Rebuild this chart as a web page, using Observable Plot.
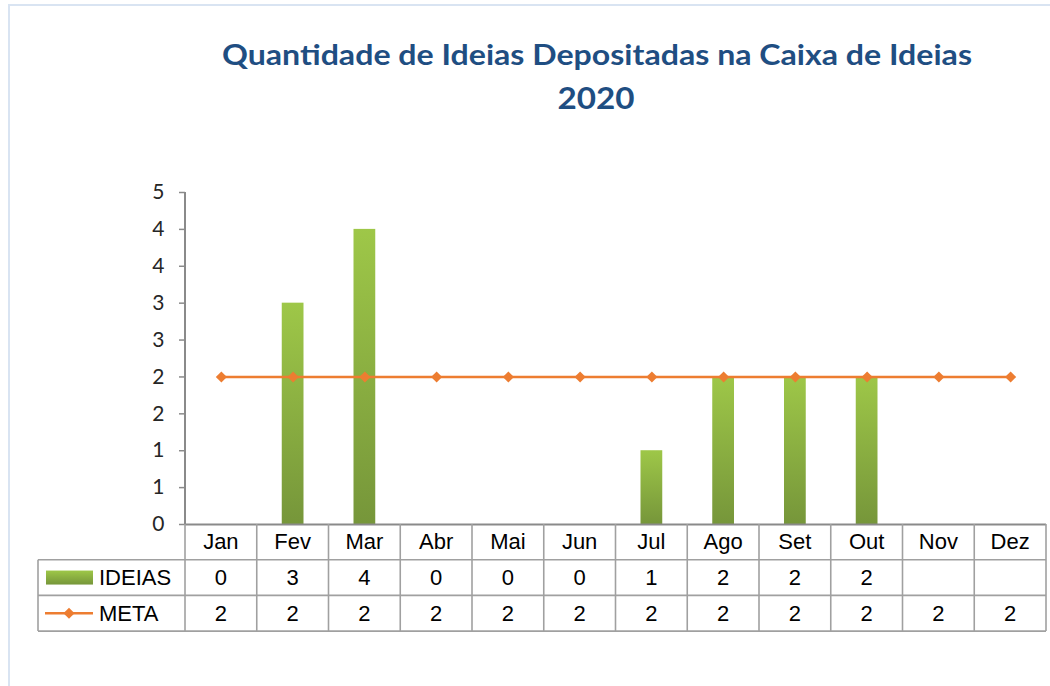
<!DOCTYPE html>
<html>
<head>
<meta charset="utf-8">
<script src="https://cdn.jsdelivr.net/npm/d3@7"></script>
<script src="https://cdn.jsdelivr.net/npm/@observablehq/plot@0.6"></script>
<style>
  html, body { margin: 0; padding: 0; background: #fff; }
  #wrap { position: relative; width: 1050px; height: 686px; overflow: hidden; background: #fff; }
  #border { position: absolute; left: 8px; top: 4px; width: 1200px; height: 900px; border: 2.5px solid #d9e4f2; box-sizing: border-box; }
  #chart { position: absolute; left: 0; top: 0; }
  #titleSvg { position: absolute; left: 0; top: 0; }
</style>
</head>
<body>
<div id="wrap">
  <div id="border"></div>
  <div id="chart"></div>
  <svg id="titleSvg" width="1050" height="130">
    <text x="597" y="65" text-anchor="middle" textLength="750" lengthAdjust="spacingAndGlyphs"
      font-family="Lato, 'Open Sans', sans-serif" font-weight="bold" font-size="29" fill="#1f4e82">Quantidade de Ideias Depositadas na Caixa de Ideias</text>
    <text x="596" y="109" text-anchor="middle" textLength="77" lengthAdjust="spacingAndGlyphs"
      font-family="Lato, 'Open Sans', sans-serif" font-weight="bold" font-size="30" fill="#1f4e82">2020</text>
  </svg>
</div>
<script>
const months = ["Jan", "Fev", "Mar", "Abr", "Mai", "Jun", "Jul", "Ago", "Set", "Out", "Nov", "Dez"];
const ideias = [0, 3, 4, 0, 0, 0, 1, 2, 2, 2, null, null];
const meta = [2, 2, 2, 2, 2, 2, 2, 2, 2, 2, 2, 2];
const yTicks = [0, 0.5, 1, 1.5, 2, 2.5, 3, 3.5, 4, 4.5];
const seriesNames = ["IDEIAS", "META"];

const data = months.map((m, i) => ({ month: m, ideias: ideias[i], meta: meta[i] }));

const plot = Plot.plot({
  width: 1050,
  height: 686,
  marginLeft: 185,
  marginRight: 4,
  marginTop: 192,
  marginBottom: 162,
  x: { type: "band", domain: months, padding: 0, round: false, axis: null },
  y: { domain: [0, 4.5], axis: null },
  style: { background: "transparent", overflow: "visible", color: "#262626" },
  marks: [
    Plot.barY(data.filter(d => d.ideias != null), {
      x: "month", y: "ideias", fill: "url(#barGrad)", insetLeft: 25, insetRight: 25
    }),
    Plot.ruleY([0], { stroke: "#8a8a8a", strokeWidth: 2 }),
    Plot.axisY({
      ticks: yTicks,
      tickFormat: d => String(Math.round(d)),
      tickSize: 6,
      tickPadding: 15,
      fontSize: 21,
      fontFamily: "Lato, 'Open Sans', sans-serif",
      stroke: "#8a8a8a",
      strokeWidth: 1.5,
      fill: "#262626",
      label: null
    }),
    Plot.lineY(data, { x: "month", y: "meta", stroke: "#ed7d31", strokeWidth: 2.5 }),
    Plot.dot(data, { x: "month", y: "meta", symbol: "diamond2", r: 5, fill: "#ed7d31", stroke: "none" })
  ]
});

document.getElementById("chart").appendChild(plot);

const svg = d3.select(plot);

const defs = svg.insert("defs", ":first-child");
const g1 = defs.append("linearGradient").attr("id", "barGrad")
  .attr("x1", 0).attr("y1", 0).attr("x2", 0).attr("y2", 1);
g1.append("stop").attr("offset", "0%").attr("stop-color", "#9ec748");
g1.append("stop").attr("offset", "100%").attr("stop-color", "#76963a");

const xs = plot.scale("x");
const ys = plot.scale("y");
const bw = xs.bandwidth;
const xLeft = xs.range[0];
const xRight = xs.range[1];
const yBase = ys.apply(0);
const yTop = ys.apply(4.5);
const rowH = 35.7;
const tableLeft = 38;
const lineColor = "#a0a0a0";
const tableFont = "'Liberation Sans', Arial, sans-serif";

const tbl = svg.append("g");

// y axis line
tbl.append("line").attr("x1", xLeft).attr("x2", xLeft).attr("y1", yTop).attr("y2", yBase)
  .attr("stroke", "#8a8a8a").attr("stroke-width", 2);

// data table grid
months.forEach(m => {
  const x0 = xs.apply(m);
  tbl.append("line").attr("x1", x0).attr("x2", x0).attr("y1", yBase).attr("y2", yBase + 3 * rowH)
    .attr("stroke", lineColor).attr("stroke-width", 1.6);
});
tbl.append("line").attr("x1", xRight).attr("x2", xRight).attr("y1", yBase).attr("y2", yBase + 3 * rowH)
  .attr("stroke", lineColor).attr("stroke-width", 1.6);
tbl.append("line").attr("x1", tableLeft).attr("x2", tableLeft).attr("y1", yBase + rowH).attr("y2", yBase + 3 * rowH)
  .attr("stroke", lineColor).attr("stroke-width", 1.6);
[1, 2, 3].forEach(k => {
  tbl.append("line").attr("x1", tableLeft).attr("x2", xRight)
    .attr("y1", yBase + k * rowH).attr("y2", yBase + k * rowH)
    .attr("stroke", lineColor).attr("stroke-width", 1.6);
});

// data table texts
function cellText(x, y, t, anchor) {
  tbl.append("text").attr("x", x).attr("y", y).attr("text-anchor", anchor || "middle")
    .attr("dominant-baseline", "central")
    .attr("font-family", tableFont).attr("font-size", 22).attr("fill", "#000").text(t);
}
months.forEach((m, i) => {
  const cx = xs.apply(m) + bw / 2;
  cellText(cx, yBase + rowH * 0.5, m);
  if (ideias[i] != null) cellText(cx, yBase + rowH * 1.5, String(ideias[i]));
  if (meta[i] != null) cellText(cx, yBase + rowH * 2.5, String(meta[i]));
});

// legend keys
tbl.append("rect").attr("x", 46).attr("y", yBase + rowH * 1.5 - 7).attr("width", 47).attr("height", 14)
  .attr("fill", "url(#barGrad)");
cellText(99, yBase + rowH * 1.5, seriesNames[0], "start");
tbl.append("line").attr("x1", 45).attr("x2", 93).attr("y1", yBase + rowH * 2.5).attr("y2", yBase + rowH * 2.5)
  .attr("stroke", "#ed7d31").attr("stroke-width", 2.5);
tbl.append("path").attr("d", d3.symbol(d3.symbolDiamond2, Math.PI * 25)())
  .attr("transform", `translate(69,${yBase + rowH * 2.5})`).attr("fill", "#ed7d31");
cellText(99, yBase + rowH * 2.5, seriesNames[1], "start");
</script>
</body>
</html>
